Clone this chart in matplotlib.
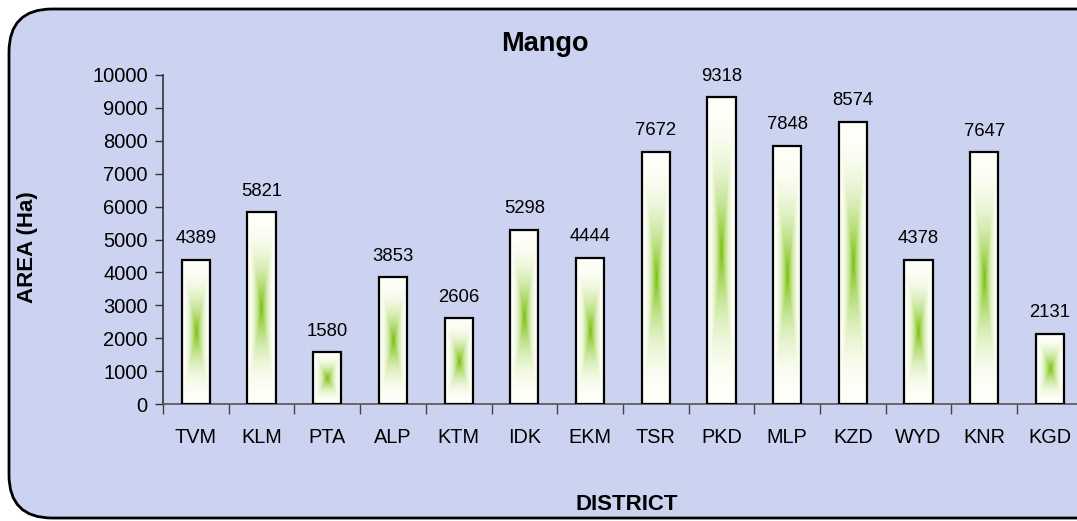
import numpy as np
import matplotlib
matplotlib.use("Agg")
import matplotlib.pyplot as plt
from matplotlib.patches import FancyBboxPatch

districts = ["TVM", "KLM", "PTA", "ALP", "KTM", "IDK", "EKM", "TSR", "PKD", "MLP", "KZD", "WYD", "KNR", "KGD"]
area = [4389, 5821, 1580, 3853, 2606, 5298, 4444, 7672, 9318, 7848, 8574, 4378, 7647, 2131]
yticks = [0, 1000, 2000, 3000, 4000, 5000, 6000, 7000, 8000, 9000, 10000]

plt.rcParams['font.family'] = ['Liberation Sans', 'DejaVu Sans']

W, H = 1077, 521
fig = plt.figure(figsize=(W / 100, H / 100), dpi=100)
fig.patch.set_facecolor('white')

# rounded border with background
border = FancyBboxPatch((9 / W, 3 / H), (W + 40) / W, (H - 12) / H,
                        boxstyle="round,pad=0,rounding_size=0.04",
                        transform=fig.transFigure, facecolor='#cbd3f0',
                        edgecolor='black', linewidth=2.0, zorder=-5,
                        mutation_aspect=W / H)
fig.patches.append(border)

ax = fig.add_axes([163 / W, (H - 404) / H, 14 * 65.7 / W, (404 - 75) / H])
ax.set_facecolor('none')
ax.set_zorder(2)

x = np.arange(len(districts))
bw = 0.43

# gradient image for bars (from center)
nx, ny = 61, 301
u = np.linspace(-1, 1, nx)[None, :]
v = np.linspace(-1, 1, ny)[:, None]
t = np.maximum(np.abs(u) * np.ones_like(v), np.abs(v) * np.ones_like(u))
a = (1 - t) ** 2.3
green = np.array([0.47, 0.75, 0.04])
white = np.array([1.0, 1.0, 0.98])
img = white[None, None, :] + (green - white)[None, None, :] * a[:, :, None]

for xi, val in zip(x, area):
    ax.imshow(img, extent=(xi - bw / 2, xi + bw / 2, 0, val), aspect='auto',
              zorder=2, interpolation='bilinear')

ax.bar(x, area, width=bw, facecolor='none', edgecolor='black', linewidth=1.6, zorder=3)

for xi, val in zip(x, area):
    ax.annotate(f"{val}", (xi, val), xytext=(0, 9), textcoords='offset points',
                ha='center', va='bottom', fontsize=13.3, color='black')

ax.set_xlim(-0.5, len(districts) - 0.5)
ax.set_ylim(0, 10000)
ax.set_yticks(yticks)
ax.set_yticklabels([str(t) for t in yticks], fontsize=14.5)
ax.set_xticks(x)
ax.set_xticklabels(districts, fontsize=14.3)
ax.set_xticks(np.arange(-0.5, len(districts), 1.0), minor=True)
ax.tick_params(axis='x', which='major', length=0, pad=17)
ax.tick_params(axis='x', which='minor', length=7, width=1, color='#444444', direction='out')
ax.tick_params(axis='y', length=6, width=1, color='#333333', pad=5)

for s in ['top', 'right']:
    ax.spines[s].set_visible(False)
ax.spines['left'].set_color('#333333')
ax.spines['bottom'].set_color('#555555')
ax.spines['left'].set_linewidth(1.2)
ax.spines['bottom'].set_linewidth(1.2)

fig.text(545 / W, 1 - 44 / H, "Mango", ha='center', va='center', fontsize=19.5, fontweight='bold')
fig.text(27 / W, 1 - 247 / H, "AREA (Ha)", ha='center', va='center', rotation=90,
         fontsize=16, fontweight='bold')
fig.text(627 / W, 1 - 505 / H, "DISTRICT", ha='center', va='center', fontsize=16, fontweight='bold')

fig.savefig("out.png", dpi=100)
